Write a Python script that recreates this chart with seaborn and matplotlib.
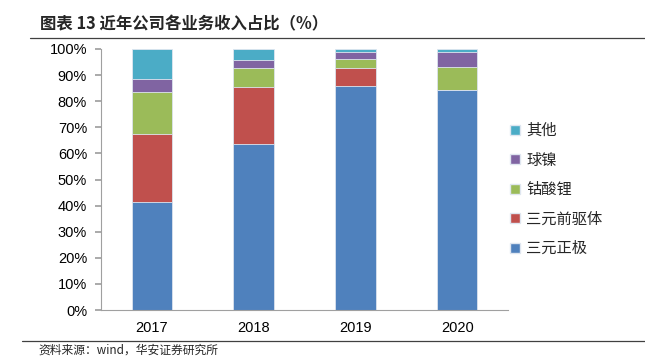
import matplotlib
matplotlib.use("Agg")
import matplotlib.pyplot as plt
import seaborn as sns
import pandas as pd
import numpy as np
from matplotlib.patches import Patch
from matplotlib.lines import Line2D

years = ["2017", "2018", "2019", "2020"]
series_names = ["三元正极", "三元前驱体", "钴酸锂", "球镍", "其他"]
ternary_cathode = [41.3, 63.5, 85.7, 84.1]
ternary_precursor = [26.0, 22.1, 7.2, 0.0]
lco = [16.1, 7.0, 3.3, 9.0]
nickel_ball = [5.2, 3.3, 2.8, 5.9]
others = [11.4, 4.1, 1.0, 1.0]
colors = ["#4F81BD", "#C0504D", "#9BBB59", "#8064A2", "#4BACC6"]

sns.set_theme(style="white")
plt.rcParams['font.family'] = ['Liberation Sans', 'Noto Sans CJK SC', 'DejaVu Sans']

values = [ternary_cathode, ternary_precursor, lco, nickel_ball, others]
cum = np.cumsum(np.array(values), axis=0)

fig = plt.figure(figsize=(6.45, 3.57), dpi=100)
ax = fig.add_axes([101/645, 1 - 310/357, (508-101)/645, (310-49)/357])

for i in range(len(series_names) - 1, -1, -1):
    df = pd.DataFrame({"year": years, "v": cum[i]})
    sns.barplot(data=df, x="year", y="v", color=colors[i], width=0.4,
                edgecolor="#dfe6f0", linewidth=0.6, ax=ax, saturation=1)

ax.set_xlim(-0.5, 3.5)
ax.set_ylim(0, 100)
ax.set_yticks(np.arange(0, 101, 10))
ax.set_yticklabels([f"{v}%" for v in range(0, 101, 10)], fontsize=10.5, color="black")
ax.set_xticks([-0.5, 0.5, 1.5, 2.5, 3.5], minor=True)
ax.set_xticklabels(years, fontsize=10.5, color="black")
ax.tick_params(axis="x", which="major", length=0, pad=8)
ax.tick_params(axis="x", which="minor", length=4, color="#a0a0a0", direction="out")
ax.tick_params(axis="y", length=4, color="#a0a0a0", direction="out", pad=6, left=True)
ax.set_xlabel("")
ax.set_ylabel("")
for s in ["top", "right"]:
    ax.spines[s].set_visible(False)
for s in ["left", "bottom"]:
    ax.spines[s].set_color("#a0a0a0")
    ax.spines[s].set_linewidth(0.8)

handles = [Patch(facecolor=colors[i], edgecolor="#dfe6f0") for i in range(len(series_names) - 1, -1, -1)]
labels = [series_names[i] for i in range(len(series_names) - 1, -1, -1)]
fig.legend(handles, labels, loc="upper left", bbox_to_anchor=(504/645, 1 - 116/357),
           frameon=False, prop={"family": ["Noto Sans CJK SC"], "size": 11},
           handlelength=0.65, handleheight=0.65, handletextpad=0.4, labelspacing=0.82,
           borderaxespad=0)

fig.text(40/645, 1 - 24/357, "图表 13 近年公司各业务收入占比（%）", fontsize=11.8, fontweight="bold",
         family=["Noto Sans CJK SC"], va="center", ha="left")
fig.add_artist(Line2D([30/645, 1], [1 - 38/357, 1 - 38/357], color="#404040", linewidth=0.9))
fig.add_artist(Line2D([22/645, 1], [1 - 341/357, 1 - 341/357], color="#404040", linewidth=0.9))
fig.text(38/645, 1 - 350/357, "资料来源：wind，华安证券研究所", fontsize=8.5,
         family=["Noto Sans CJK SC"], va="center", ha="left")

fig.savefig("out.png", dpi=100)
